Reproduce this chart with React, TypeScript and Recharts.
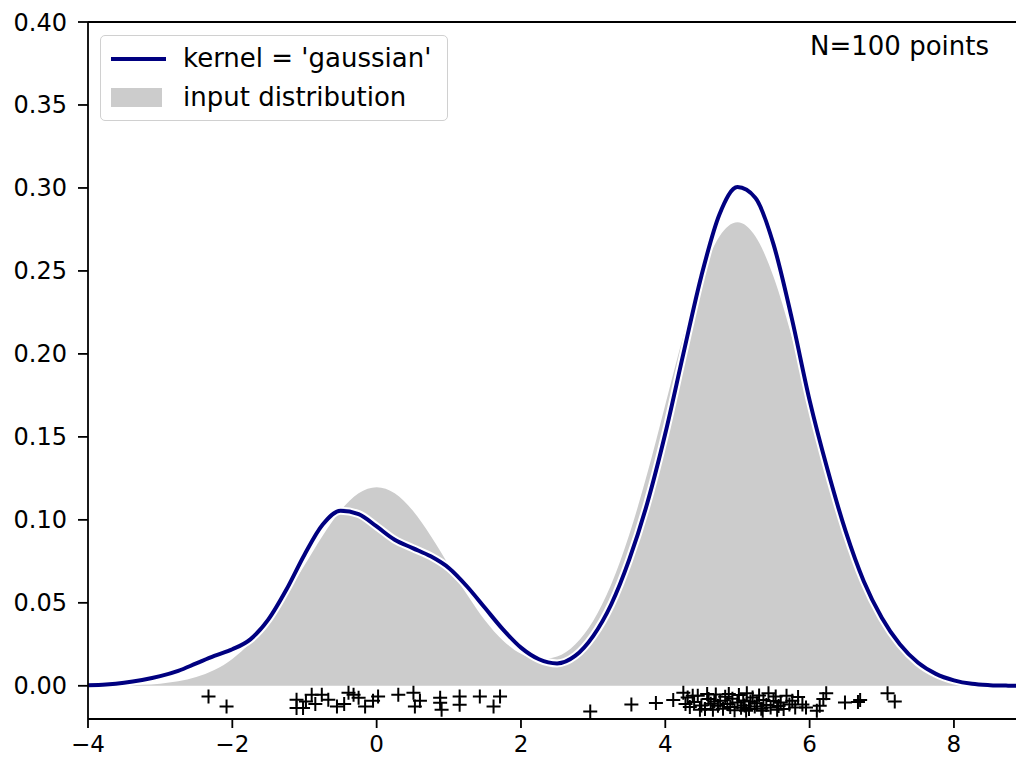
import {
  Area,
  ComposedChart,
  Legend,
  Line,
  ReferenceLine,
  Scatter,
  XAxis,
  YAxis,
} from "recharts";

// density curves, sampled every 0.25 from -4 to 9
const xs = [
  -4, -3.75, -3.5, -3.25, -3, -2.75, -2.5, -2.25, -2, -1.75, -1.5, -1.25, -1,
  -0.75, -0.5, -0.25, 0, 0.25, 0.5, 0.75, 1, 1.25, 1.5, 1.75, 2, 2.25, 2.5,
  2.75, 3, 3.25, 3.5, 3.75, 4, 4.25, 4.5, 4.75, 5, 5.25, 5.5, 5.75, 6, 6.25,
  6.5, 6.75, 7, 7.25, 7.5, 7.75, 8, 8.25, 8.5, 8.75, 9,
];
const inputDist = [
  0.0, 0.0001, 0.0003, 0.0006, 0.0013, 0.0027, 0.0053, 0.0095, 0.0162, 0.0259,
  0.0389, 0.0548, 0.0726, 0.0903, 0.1056, 0.116, 0.1197, 0.116, 0.1056, 0.0903,
  0.0727, 0.0551, 0.0395, 0.0273, 0.0193, 0.0159, 0.0176, 0.0249, 0.0391,
  0.061, 0.091, 0.1279, 0.1694, 0.2108, 0.2465, 0.2707, 0.2793, 0.2707, 0.2465,
  0.2108, 0.1694, 0.1279, 0.0906, 0.0604, 0.0378, 0.0222, 0.0123, 0.0064,
  0.0031, 0.0014, 0.0006, 0.0003, 0.0001,
];
const gaussianKde = [
  0.0003, 0.0008, 0.0018, 0.0035, 0.0058, 0.009, 0.0135, 0.018, 0.022, 0.028,
  0.04, 0.058, 0.079, 0.097, 0.1055, 0.1035, 0.096, 0.088, 0.083, 0.078, 0.071,
  0.06, 0.047, 0.034, 0.023, 0.016, 0.0135, 0.018, 0.03, 0.049, 0.076, 0.11,
  0.152, 0.2, 0.247, 0.284, 0.3005, 0.294, 0.266, 0.222, 0.172, 0.13, 0.093,
  0.063, 0.041, 0.025, 0.014, 0.0072, 0.0033, 0.0012, 0.0004, 0.0001, 0.0,
];

// the 100 sample points, drawn as "+" below zero
const sampleX = [
  -2.33, -2.08, -1.11, -1.11, -1.02, -0.98, -0.9, -0.85, -0.76, -0.67, -0.55,
  -0.45, -0.39, -0.32, -0.25, -0.16, -0.05, 0.02, 0.3, 0.51, 0.53, 0.6, 0.88,
  0.88, 0.9, 1.15, 1.15, 1.43, 1.62, 1.71,
  2.96, 3.53, 3.87, 4.11, 4.25, 4.28, 4.31, 4.34, 4.38, 4.4, 4.45, 4.48, 4.5,
  4.55, 4.58, 4.6, 4.63, 4.66, 4.68, 4.7, 4.73, 4.76, 4.8, 4.83, 4.86, 4.88,
  4.9, 4.93, 4.96, 5.0, 5.02, 5.05, 5.08, 5.1, 5.12, 5.13, 5.16, 5.18, 5.21,
  5.24, 5.27, 5.3, 5.33, 5.35, 5.36, 5.4, 5.43, 5.46, 5.5, 5.53, 5.55, 5.57,
  5.6, 5.64, 5.68, 5.72, 5.76, 5.8, 5.84, 5.9, 5.95, 6.1, 6.14, 6.19, 6.23,
  6.49, 6.67, 6.7, 7.08, 7.18,
];
const sampleY = [
  -0.0064, -0.0125, -0.0084, -0.0133, -0.0133, -0.0095, -0.0054, -0.011,
  -0.0054, -0.0084, -0.0125, -0.011, -0.0042, -0.0054, -0.0072, -0.0125,
  -0.009, -0.0064, -0.0054, -0.0042, -0.0125, -0.009, -0.0072, -0.0102,
  -0.0145, -0.0064, -0.0114, -0.0064, -0.0125, -0.0064,
  -0.0155, -0.0112, -0.0104, -0.0085, -0.0042, -0.011, -0.007, -0.0128,
  -0.006, -0.0098, -0.006, -0.0145, -0.0118, -0.014, -0.005, -0.008, -0.0108,
  -0.0145, -0.0095, -0.0052, -0.012, -0.009, -0.0138, -0.0066, -0.011, -0.005,
  -0.0128, -0.0078, -0.0148, -0.01, -0.0056, -0.0132, -0.0088, -0.0118,
  -0.015, -0.0045, -0.014, -0.0095, -0.007, -0.0125, -0.0105, -0.0058, -0.0138,
  -0.015, -0.0086, -0.0115, -0.0045, -0.013, -0.0092, -0.0064, -0.0145,
  -0.0122, -0.01, -0.014, -0.006, -0.0112, -0.009, -0.013, -0.0068, -0.0112,
  -0.013, -0.015, -0.012, -0.008, -0.0045, -0.01, -0.0098, -0.0085, -0.0045,
  -0.0095,
];

const xTicks = [-4, -2, 0, 2, 4, 6, 8];
const yTicks = [0, 0.05, 0.1, 0.15, 0.2, 0.25, 0.3, 0.35, 0.4];

const curves = xs.map((x, i) => ({ x, truth: inputDist[i], kde: gaussianKde[i] }));
const samples = sampleX.map((x, i) => ({ x, y: sampleY[i] }));

const FONT = "'DejaVu Sans', sans-serif";
const NAVY = "#000080";

const Plus = (props: any) => {
  const { cx, cy } = props;
  if (cx == null || cy == null) return null;
  return (
    <path
      d={`M${cx - 7},${cy}H${cx + 7}M${cx},${cy - 7}V${cy + 7}`}
      stroke="#000"
      strokeWidth={2}
      fill="none"
    />
  );
};

const LegendBox = () => (
  <div
    style={{
      border: "1.5px solid #d0d0d0",
      borderRadius: 5,
      background: "rgba(255,255,255,0.8)",
      padding: "3px 10px 3px 10px",
      fontFamily: FONT,
      fontSize: 26,
      color: "#000",
      lineHeight: "39px",
      width: 326,
      whiteSpace: "nowrap",
    }}
  >
    <div style={{ display: "flex", alignItems: "center" }}>
      <span
        style={{ display: "inline-block", width: 55, height: 4, background: NAVY, marginRight: 17 }}
      />
      kernel = 'gaussian'
    </div>
    <div style={{ display: "flex", alignItems: "center" }}>
      <span
        style={{ display: "inline-block", width: 51, height: 19, background: "#cccccc", marginRight: 21 }}
      />
      input distribution
    </div>
  </div>
);

export default function App() {
  return (
    <div style={{ position: "absolute", left: 0, top: 0, width: 1016, height: 758 }}>
      <ComposedChart
        width={1016}
        height={758}
        data={curves}
        margin={{ top: 22, right: 0, bottom: 0, left: 0 }}
      >
        <XAxis
          dataKey="x"
          type="number"
          domain={[-4, 8.86]}
          allowDataOverflow
          ticks={xTicks}
          height={39}
          stroke="#000"
          axisLine={{ stroke: "#000", strokeWidth: 1.8 }}
          tickLine={{ stroke: "#000", strokeWidth: 1.8 }}
          tickSize={9}
          tickMargin={8}
          tick={{ fill: "#000", fontSize: 23, fontFamily: FONT }}
          tickFormatter={(v: number) => (v < 0 ? `\u2212${Math.abs(v)}` : `${v}`)}
        />
        <YAxis
          type="number"
          domain={[-0.02, 0.4]}
          allowDataOverflow
          ticks={yTicks}
          width={88}
          stroke="#000"
          axisLine={{ stroke: "#000", strokeWidth: 1.8 }}
          tickLine={{ stroke: "#000", strokeWidth: 1.8 }}
          tickSize={10}
          tickMargin={11}
          tick={{ fill: "#000", fontSize: 24, fontFamily: FONT }}
          tickFormatter={(v: number) => v.toFixed(2)}
        />
        <ReferenceLine y={0.4} stroke="#000" strokeWidth={1.8} ifOverflow="visible" />
        <Area
          dataKey="truth"
          type="monotone"
          stroke="none"
          fill="#cccccc"
          fillOpacity={1}
          baseValue={0}
          isAnimationActive={false}
        />
        <Line
          dataKey="kde"
          type="monotone"
          stroke="#ffffff"
          strokeWidth={8}
          dot={false}
          activeDot={false}
          isAnimationActive={false}
          legendType="none"
        />
        <Line
          dataKey="kde"
          type="monotone"
          stroke={NAVY}
          strokeWidth={4}
          dot={false}
          activeDot={false}
          isAnimationActive={false}
        />
        <Scatter data={samples} dataKey="y" shape={Plus} isAnimationActive={false} />
        <Legend
          layout="horizontal"
          verticalAlign="middle"
          align="center"
          content={() => <LegendBox />}
          wrapperStyle={{ left: 100, top: 35, width: 348, height: 88 }}
        />
      </ComposedChart>
      <div
        style={{
          position: "absolute",
          left: 810,
          top: 33,
          fontFamily: FONT,
          fontSize: 26,
          lineHeight: "26px",
          color: "#000",
          whiteSpace: "nowrap",
        }}
      >
        N=100 points
      </div>
    </div>
  );
}
